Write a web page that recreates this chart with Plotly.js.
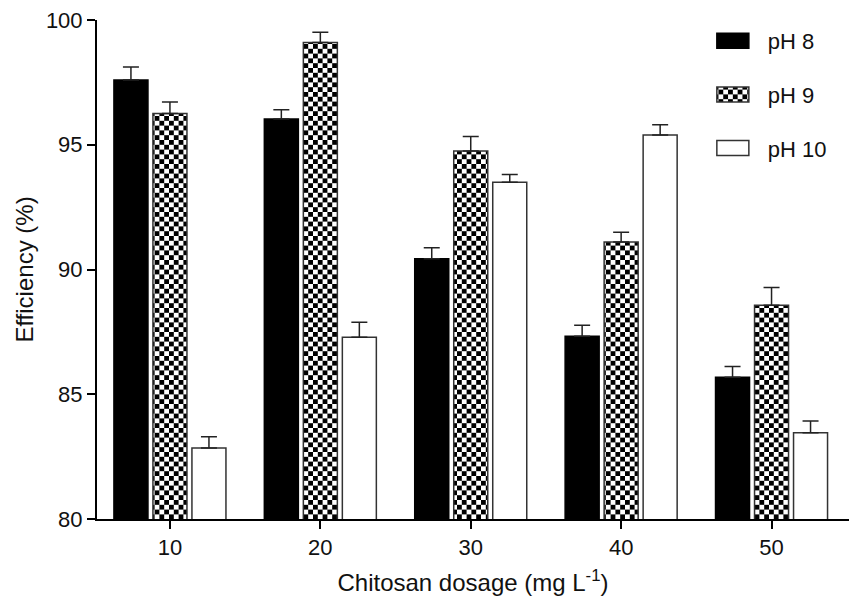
<!DOCTYPE html>
<html><head><meta charset="utf-8">
<script src="https://cdn.plot.ly/plotly-3.0.1.min.js"></script>
<style>body{margin:0;background:#fff}#chart{width:849px;height:605px}</style>
</head><body>
<svg width="0" height="0" style="position:absolute">
<defs><pattern id="checker" patternUnits="userSpaceOnUse" width="9.6" height="9.6">
<rect width="9.6" height="9.6" fill="#fff"/><rect width="4.8" height="4.8" fill="#000"/><rect x="4.8" y="4.8" width="4.8" height="4.8" fill="#000"/></pattern></defs></svg>
<div id="chart"></div>
<script>
const categories = ['10', '20', '30', '40', '50'];
const ph8 = [97.6, 96.03, 90.43, 87.32, 85.68];
const ph8Err = [0.52, 0.37, 0.44, 0.45, 0.43];
const ph9 = [96.25, 99.1, 94.75, 91.1, 88.57];
const ph9Err = [0.46, 0.41, 0.58, 0.39, 0.71];
const ph10 = [82.85, 87.28, 93.5, 95.39, 83.46];
const ph10Err = [0.45, 0.61, 0.31, 0.41, 0.47];
const noLower = [0, 0, 0, 0, 0];
const seriesNames = ['pH 8', 'pH 9', 'pH 10'];
const yTicks = [80, 85, 90, 95, 100];

const FONT = 'Liberation Sans, Arial, Helvetica, sans-serif';
function err(arr) {
  return {type: 'data', symmetric: false, array: arr, arrayminus: noLower,
          color: '#222', thickness: 1.5, width: 8};
}
const traces = [
  {type: 'bar', name: seriesNames[0], x: categories, y: ph8, error_y: err(ph8Err),
   legendgroup: 'a', marker: {color: '#000', line: {color: '#000', width: 1.5}}},
  {type: 'bar', name: seriesNames[1], x: categories, y: ph9, error_y: err(ph9Err),
   legendgroup: 'b', marker: {color: '#fff', line: {color: '#333', width: 1.5},
   pattern: {shape: '+', fgcolor: '#000', bgcolor: '#fff', size: 8, solidity: 0.5}}},
  {type: 'bar', name: seriesNames[2], x: categories, y: ph10, error_y: err(ph10Err),
   legendgroup: 'c', marker: {color: '#fff', line: {color: '#333', width: 1.5}}}
];
const layout = {
  width: 849, height: 605,
  margin: {l: 97, r: 0, t: 20, b: 86},
  paper_bgcolor: '#fff', plot_bgcolor: '#fff',
  font: {family: FONT, size: 22, color: '#111'},
  barmode: 'group', bargap: 0.222, bargroupgap: 0.128,
  showlegend: true,
  legend: {x: 0.799, xanchor: 'left', y: 1.0, yanchor: 'top', font: {size: 22, family: FONT},
           itemwidth: 60, traceorder: 'grouped', tracegroupgap: 22, bgcolor: 'rgba(0,0,0,0)'},
  xaxis: {type: 'category', range: [-0.485, 4.515], showgrid: false, zeroline: false,
          showline: true, linecolor: '#000', linewidth: 2, ticks: 'outside', ticklen: 8,
          tickwidth: 2, tickcolor: '#000', tickfont: {size: 22},
          title: {text: 'Chitosan dosage (mg L<sup>-1</sup>)', font: {size: 24}, standoff: 15}},
  yaxis: {range: [80, 100], tickvals: yTicks, showgrid: false, zeroline: false,
          showline: true, linecolor: '#000', linewidth: 2, ticks: 'outside', ticklen: 8,
          tickwidth: 2, tickcolor: '#000', tickfont: {size: 22},
          title: {text: 'Efficiency (%)', font: {size: 24}, standoff: 5}}
};
function restyleMarks() {
  const gd = document.getElementById('chart');
  const barTraces = gd.querySelectorAll('.barlayer .trace');
  if (barTraces[1]) {
    barTraces[1].querySelectorAll('.point path').forEach(p => { p.style.fill = 'url(#checker)'; });
  }
  const legItems = gd.querySelectorAll('.legend .traces');
  legItems.forEach((it, i) => {
    it.querySelectorAll('.legendpoints path').forEach(p => {
      p.setAttribute('d', 'M16,7.5H-16V-7.5H16Z');
      if (i === 1) p.style.fill = 'url(#checker)';
    });
  });
}
Plotly.newPlot('chart', traces, layout, {displayModeBar: false, staticPlot: true}).then(gd => {
  restyleMarks();
  gd.on('plotly_afterplot', restyleMarks);
});
</script>
</body></html>
